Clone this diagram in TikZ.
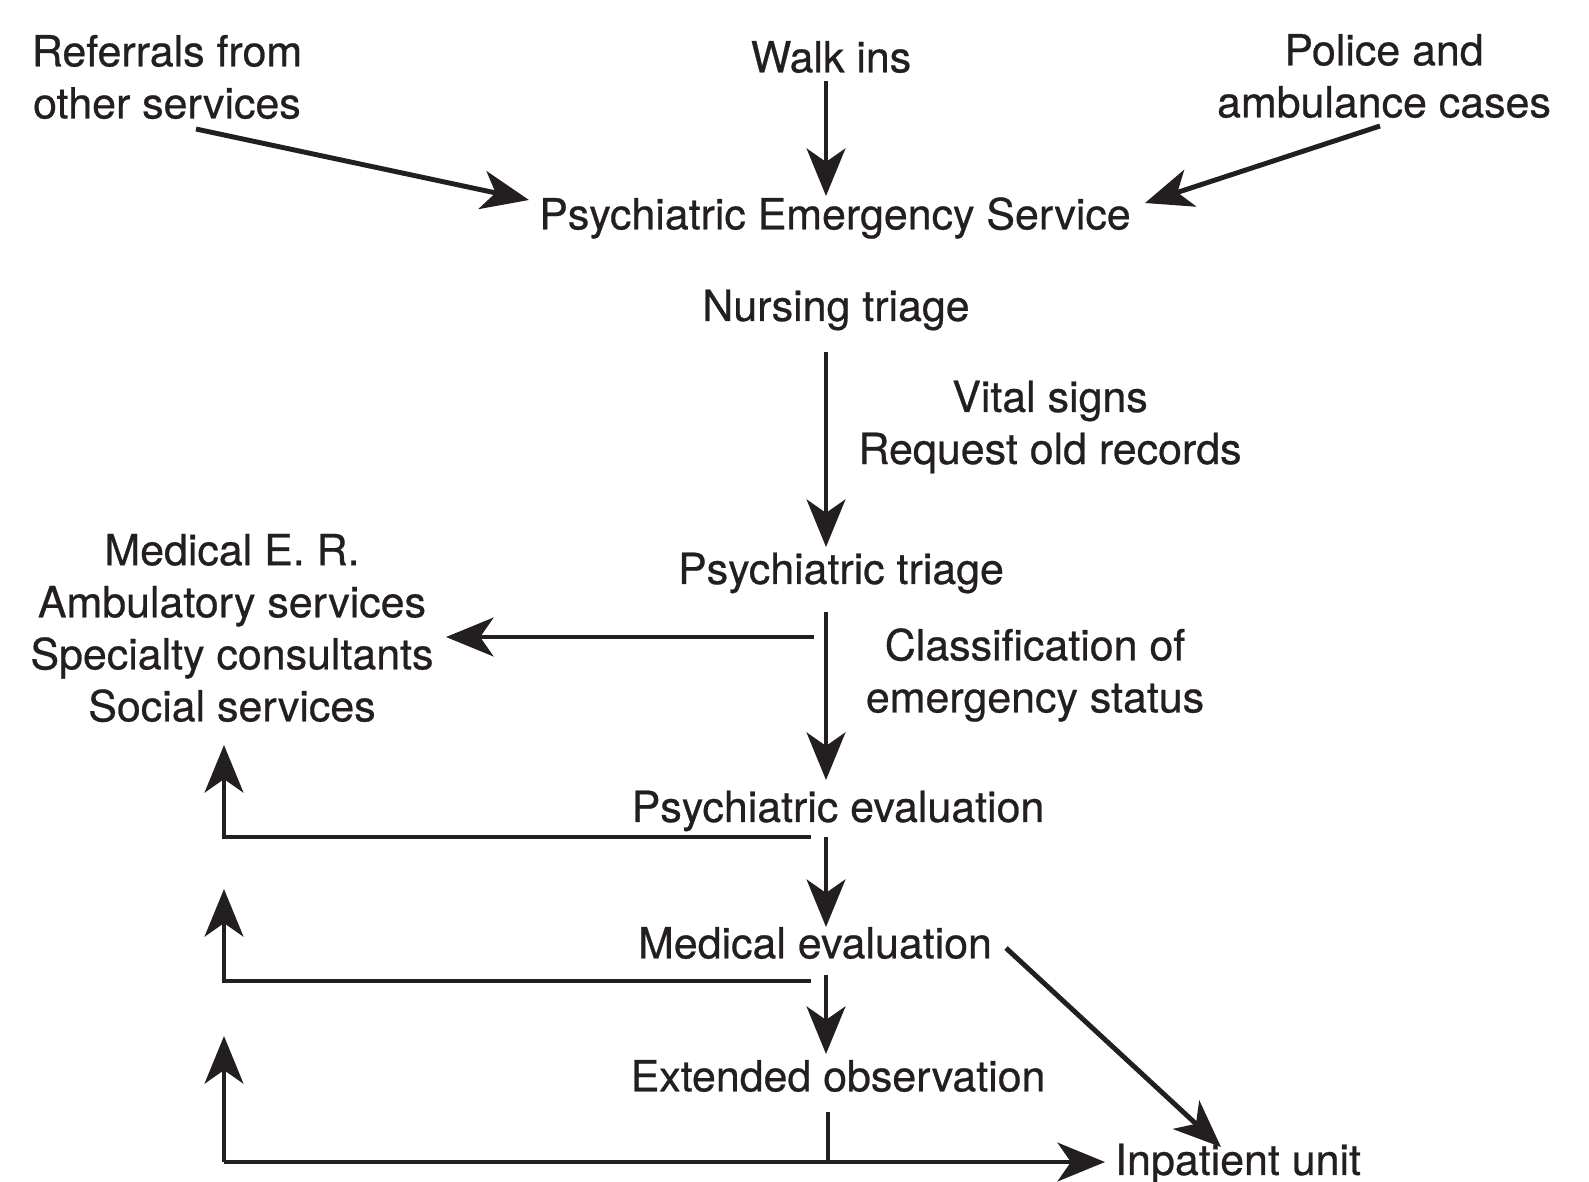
\documentclass[tikz,border=0pt]{standalone}
\usepackage{fontspec}
\setmainfont[FakeBold=0.6]{TeX Gyre Heros}
\usetikzlibrary{arrows.meta}
\definecolor{Ink}{RGB}{35, 31, 32}
\tikzset{
  txt/.style={font=\fontsize{12.2}{14.8}\selectfont, text=Ink, align=center, inner sep=0pt},
  wire/.style={draw=Ink, line width=1.4pt},
  flow/.style={wire, -{Stealth[length=13.5pt, width=11pt, inset=3.8pt]}}
}

\begin{document}
\begin{tikzpicture}[x=0.01cm, y=-0.01cm]
\useasboundingbox (0,0) rectangle (1589,1181);

% sources
\node[txt] (referrals) at (167,77) {Referrals from\\other services};
\node[txt] (walkins) at (831,57) {Walk ins};
\node[txt] (police) at (1384,76) {Police and\\ambulance cases};

% main column
\node[txt] (pes) at (835,218) {Psychiatric Emergency Service};
\node[txt] (nursing) at (836,310) {Nursing triage};
\node[txt] (vitals) at (1050,427) {Vital signs\\Request old records};
\node[txt] (ptriage) at (841,573) {Psychiatric triage};
\node[txt] (classify) at (1035,675) {Classification of\\emergency status};
\node[txt] (peval) at (838,811) {Psychiatric evaluation};
\node[txt] (meval) at (815,943) {Medical evaluation};
\node[txt] (extobs) at (838,1076) {Extended observation};
\node[txt] (inpatient) at (1238,1164) {Inpatient unit};
\node[txt] (services) at (232,628) {Medical E. R.\\Ambulatory services\\Specialty consultants\\Social services};

% connector ends
\coordinate (refOut) at (196,129);  \coordinate (pesW) at (529,200);
\coordinate (walkOut) at (826,81);  \coordinate (pesN) at (826,196);
\coordinate (polOut) at (1380,126); \coordinate (pesE) at (1145,203);
\coordinate (nurseOut) at (826,352); \coordinate (ptriageIn) at (826,547);
\coordinate (ptriageOut) at (826,612); \coordinate (pevalIn) at (826,780);
\coordinate (ptriageW) at (814,637); \coordinate (servicesE) at (446,637);
\coordinate (pevalOut) at (826,837); \coordinate (mevalIn) at (826,927);
\coordinate (pevalW) at (811,837);  \coordinate (retA) at (224,837); \coordinate (retAtop) at (224,745);
\coordinate (mevalOut) at (826,975); \coordinate (extIn) at (826,1054);
\coordinate (mevalW) at (811,981);  \coordinate (retB) at (224,981); \coordinate (retBtop) at (224,889);
\coordinate (extOut) at (828,1112); \coordinate (extJoin) at (828,1162);
\coordinate (retC) at (224,1162);   \coordinate (retCtop) at (224,1036);
\coordinate (inpatientW) at (1105,1162);
\coordinate (mevalE) at (1006,948); \coordinate (inpatientN) at (1221,1147);

% arrivals
\draw[flow] (refOut) -- (pesW);
\draw[flow] (walkOut) -- (pesN);
\draw[flow] (polOut) -- (pesE);

% triage chain
\draw[flow] (nurseOut) -- (ptriageIn);
\draw[flow] (ptriageOut) -- (pevalIn);
\draw[flow] (ptriageW) -- (servicesE);
\draw[flow] (pevalOut) -- (mevalIn);
\draw[flow] (pevalW) -- (retA) -- (retAtop);
\draw[flow] (mevalOut) -- (extIn);
\draw[flow] (mevalW) -- (retB) -- (retBtop);

% disposition
\draw[wire] (extOut) -- (extJoin);
\draw[flow] (retC) -- (inpatientW);
\draw[flow] (retC) -- (retCtop);
\draw[flow] (mevalE) -- (inpatientN);
\end{tikzpicture}
\end{document}
